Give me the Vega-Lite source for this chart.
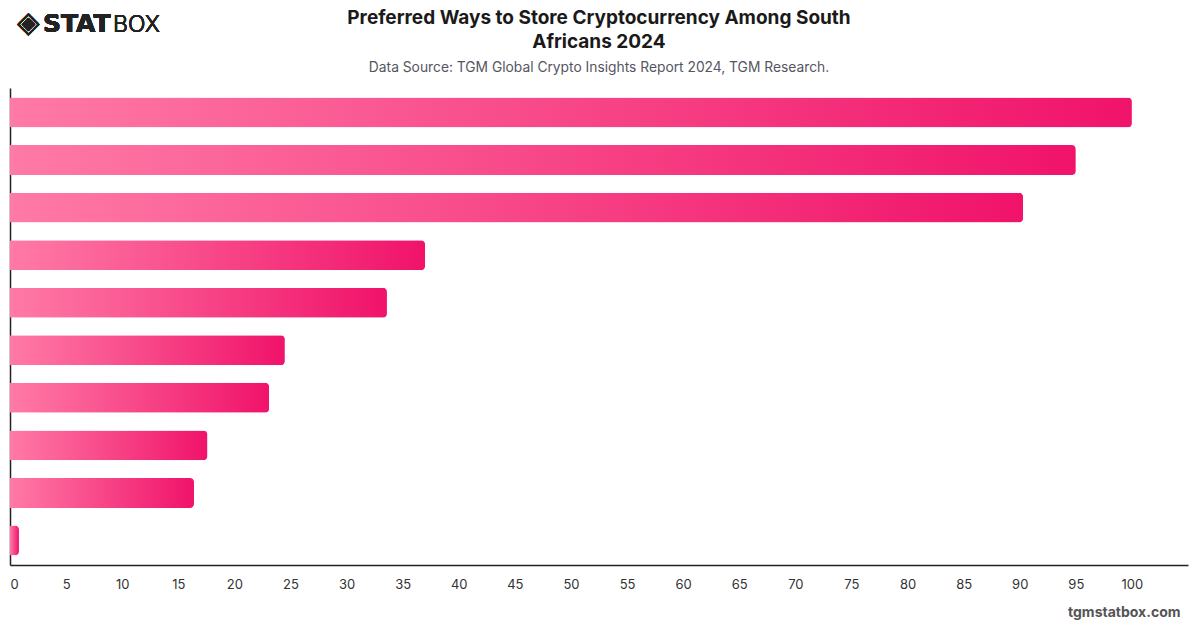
{
  "$schema": "https://vega.github.io/schema/vega-lite/v6.json",
  "width": 1178,
  "height": 477,
  "autosize": {"type": "none"},
  "padding": {"left": 10, "right": 12, "top": 88, "bottom": 63},
  "background": "white",
  "title": {
    "text": ["Preferred Ways to Store Cryptocurrency Among South", "Africans 2024"],
    "subtitle": "Data Source: TGM Global Crypto Insights Report 2024, TGM Research.",
    "anchor": "middle",
    "frame": "group",
    "font": "Inter",
    "fontSize": 19,
    "fontWeight": "bold",
    "color": "#1a1a1a",
    "lineHeight": 24,
    "subtitleFont": "Inter",
    "subtitleFontSize": 13.8,
    "subtitleColor": "#55555f",
    "subtitlePadding": 9,
    "offset": -66
  },
  "data": {
    "values": [
      {"option": "Option 1", "share": 100},
      {"option": "Option 2", "share": 95},
      {"option": "Option 3", "share": 90.3},
      {"option": "Option 4", "share": 37},
      {"option": "Option 5", "share": 33.6},
      {"option": "Option 6", "share": 24.5},
      {"option": "Option 7", "share": 23.1},
      {"option": "Option 8", "share": 17.6},
      {"option": "Option 9", "share": 16.4},
      {"option": "Option 10", "share": 0.8}
    ]
  },
  "layer": [
    {
      "mark": {
        "type": "bar",
        "cornerRadiusEnd": 4,
        "color": {
          "gradient": "linear",
          "x1": 0, "x2": 1, "y1": 0, "y2": 0,
          "stops": [
            {"offset": 0, "color": "#ff7aa6"},
            {"offset": 1, "color": "#f0136a"}
          ]
        }
      },
      "encoding": {
        "y": {
          "field": "option",
          "type": "nominal",
          "sort": null,
          "scale": {"paddingInner": 0.37, "paddingOuter": 0.2},
          "axis": {"labels": false, "ticks": false, "title": null, "domain": true, "domainColor": "#222222", "domainWidth": 1.5, "grid": false}
        },
        "x": {
          "field": "share",
          "type": "quantitative",
          "scale": {"domain": [0, 105], "nice": false},
          "axis": {
            "values": [0, 5, 10, 15, 20, 25, 30, 35, 40, 45, 50, 55, 60, 65, 70, 75, 80, 85, 90, 95, 100],
            "grid": false,
            "ticks": false,
            "domainColor": "#222222",
            "domainWidth": 1.5,
            "labelFlush": true,
            "labelFont": "Inter",
            "labelFontSize": 13,
            "labelColor": "#333333",
            "labelPadding": 13,
            "title": "tgmstatbox.com",
            "titleX": 1170,
            "titleAlign": "right",
            "titleFont": "Inter",
            "titleFontSize": 14,
            "titleFontWeight": "bold",
            "titleColor": "#555555",
            "titlePadding": 14
          }
        }
      }
    },
    {
      "mark": {"type": "text", "font": "DejaVu Sans", "fontSize": 29, "color": "#222222", "align": "center", "baseline": "middle"},
      "encoding": {"x": {"value": 18.5}, "y": {"value": -65}, "text": {"value": "◈"}}
    },
    {
      "mark": {"type": "text", "font": "DejaVu Sans", "fontSize": 25, "fontWeight": "bold", "color": "#222222", "align": "left", "baseline": "alphabetic"},
      "encoding": {"x": {"value": 33}, "y": {"value": -56}, "text": {"value": "STAT"}}
    },
    {
      "mark": {"type": "text", "font": "Inter", "fontSize": 23, "fontWeight": 300, "color": "#222222", "align": "left", "baseline": "alphabetic"},
      "encoding": {"x": {"value": 103}, "y": {"value": -56}, "text": {"value": "BOX"}}
    }
  ],
  "config": {"view": {"stroke": null}}
}
